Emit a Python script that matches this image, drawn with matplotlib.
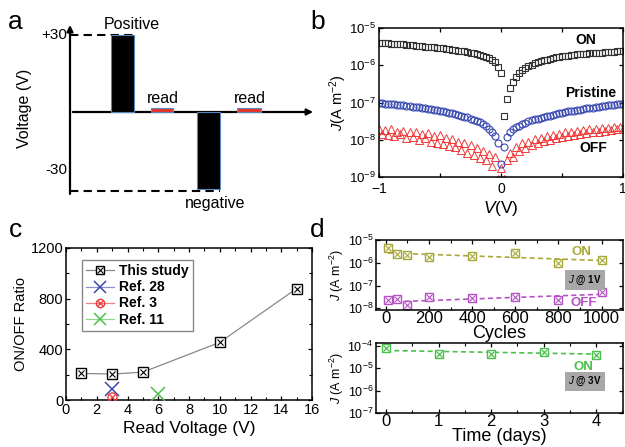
import numpy as np
import matplotlib
matplotlib.use('Agg')
import matplotlib.pyplot as plt
from matplotlib.lines import Line2D
from matplotlib.legend_handler import HandlerTuple
from matplotlib.ticker import NullLocator, MultipleLocator, LogLocator

plt.rcParams['font.family'] = ['Liberation Sans', 'DejaVu Sans']
plt.rcParams['mathtext.fontset'] = 'custom'
plt.rcParams['mathtext.rm'] = 'Liberation Sans'
plt.rcParams['mathtext.it'] = 'Liberation Sans:italic'
plt.rcParams['mathtext.bf'] = 'Liberation Sans:bold'
plt.rcParams['xtick.direction'] = 'in'
plt.rcParams['ytick.direction'] = 'in'
plt.rcParams['xtick.top'] = True
plt.rcParams['ytick.right'] = True
plt.rcParams['axes.linewidth'] = 1.1

# ---- (a) pulse scheme ----
pulse_start = [1.65, 3.3, 5.15, 6.8]
pulse_width = [0.95, 0.9, 0.95, 0.95]
pulse_level = [30, 1.5, -30, 1.5]
pulse_name = ['Positive', 'read', 'negative', 'read']

# ---- (b) J-V sweeps, log10(J) ----
sweep_v = np.linspace(-1, 1, 81)
on_logj = [-5.40, -5.40, -5.41, -5.41, -5.42, -5.42, -5.43, -5.43, -5.44, -5.45,
           -5.46, -5.46, -5.47, -5.48, -5.49, -5.50, -5.50, -5.51, -5.52, -5.53,
           -5.54, -5.55, -5.56, -5.57, -5.58, -5.59, -5.61, -5.62, -5.63, -5.65,
           -5.66, -5.68, -5.70, -5.72, -5.74, -5.77, -5.80, -5.85, -5.92, -6.05,
           -6.20,
           -7.35, -6.90, -6.62, -6.45, -6.32, -6.22, -6.14, -6.07, -6.02, -5.98,
           -5.95, -5.92, -5.89, -5.87, -5.85, -5.83, -5.81, -5.79, -5.78, -5.76,
           -5.75, -5.74, -5.73, -5.72, -5.71, -5.70, -5.69, -5.69, -5.68, -5.67,
           -5.67, -5.66, -5.66, -5.65, -5.65, -5.64, -5.64, -5.63, -5.63, -5.62]
pristine_logj = [-7.02, -7.02, -7.03, -7.03, -7.04, -7.05, -7.06, -7.07, -7.08, -7.09,
                 -7.10, -7.11, -7.12, -7.13, -7.15, -7.16, -7.17, -7.18, -7.20, -7.21,
                 -7.23, -7.24, -7.26, -7.27, -7.29, -7.31, -7.33, -7.35, -7.38, -7.40,
                 -7.43, -7.46, -7.49, -7.53, -7.58, -7.63, -7.70, -7.78, -7.89, -8.10,
                 -8.65,
                 -8.20, -7.92, -7.80, -7.72, -7.67, -7.62, -7.58, -7.54, -7.51, -7.48,
                 -7.45, -7.43, -7.41, -7.39, -7.37, -7.35, -7.33, -7.31, -7.29, -7.27,
                 -7.26, -7.24, -7.23, -7.22, -7.20, -7.19, -7.18, -7.16, -7.15, -7.14,
                 -7.13, -7.11, -7.10, -7.09, -7.08, -7.07, -7.06, -7.05, -7.04, -7.03]
off_logj = [-7.70, -7.85, -7.74, -7.88, -7.72, -7.90, -7.78, -7.84, -7.76, -7.95,
            -7.80, -7.92, -7.78, -8.00, -7.84, -7.96, -7.82, -8.05, -7.90, -8.10,
            -7.88, -8.12, -7.95, -8.18, -7.98, -8.20, -8.05, -8.28, -8.08, -8.35,
            -8.15, -8.40, -8.22, -8.50, -8.30, -8.55, -8.38, -8.70, -8.45, -9.05,
            -8.75,
            -9.05, -8.55, -8.35, -8.45, -8.20, -8.30, -8.10, -8.22, -8.05, -8.15,
            -7.98, -8.08, -7.94, -8.04, -7.90, -8.00, -7.86, -7.96, -7.84, -7.93,
            -7.80, -7.90, -7.78, -7.87, -7.76, -7.85, -7.74, -7.83, -7.72, -7.80,
            -7.71, -7.78, -7.69, -7.76, -7.68, -7.74, -7.66, -7.72, -7.65, -7.70]

# ---- (c) ON/OFF ratio vs read voltage ----
read_v = [1, 3, 5, 10, 15]
ratio = [210, 205, 220, 455, 880]
ref28_v, ref28_ratio = [3], [90]
ref3_v, ref3_ratio = [3], [25]
ref11_v, ref11_ratio = [6], [45]

# ---- (d) endurance and retention ----
cycles = [10, 50, 100, 200, 400, 600, 800, 1000]
cyc_on_logj = [-5.36, -5.60, -5.64, -5.74, -5.69, -5.55, -6.03, -5.86]
cyc_off_logj = [-7.63, -7.60, -7.87, -7.50, -7.55, -7.50, -7.63, -7.30]
cyc_fit_x = [10, 1000]
cyc_on_fit = [-5.57, -5.90]
cyc_off_fit = [-7.72, -7.38]
days = [0, 1, 2, 3, 4]
day_on_logj = [-4.12, -4.38, -4.38, -4.30, -4.40]
day_fit_x = [0, 4]
day_on_fit = [-4.22, -4.38]

W, H = 625, 447
fig = plt.figure(figsize=(W / 100, H / 100), dpi=100)


def box(l, t, r, b):
    return [l / W, (H - b) / H, (r - l) / W, (b - t) / H]


# panel letters
for letter, px, py in [('a', 8, 29), ('b', 310, 29), ('c', 9, 237), ('d', 310, 237)]:
    fig.text(px / W, 1 - py / H, letter, fontsize=19, va='baseline')

# ================= (a) =================
ax = fig.add_axes(box(70, 19.6, 325, 204.4))
ax.set_xlim(0, 10.37)
ax.set_ylim(-36, 36)
ax.axis('off')
ax.annotate('', xy=(0, 35), xytext=(0, -33),
            arrowprops=dict(arrowstyle='-|>', lw=1.6, color='black', mutation_scale=9))
ax.annotate('', xy=(10.0, 0), xytext=(0, 0),
            arrowprops=dict(arrowstyle='-|>', lw=1.6, color='black', mutation_scale=9))
for s, w, lev in zip(pulse_start, pulse_width, pulse_level):
    big = abs(lev) > 5
    ax.bar(s, lev, width=w, align='edge', color='black' if big else '#e8332b',
           edgecolor='#5a86c0', linewidth=0.8, zorder=3)
ax.plot([0, pulse_start[0] + pulse_width[0]], [pulse_level[0]] * 2, '--', color='black',
        lw=1.5, dashes=(4, 2.5))
ax.plot([0, pulse_start[2] + pulse_width[2]], [pulse_level[2] - 0.8] * 2, '--', color='black',
        lw=1.5, dashes=(4, 2.5))
ax.text(-0.1, 30, '+30', ha='right', va='center', fontsize=11)
ax.text(-0.1, -22.6, '-30', ha='right', va='center', fontsize=11)
ax.text(2.52, 34, pulse_name[0], ha='center', va='center', fontsize=11.5)
ax.text(3.78, 5.2, pulse_name[1], ha='center', va='center', fontsize=11.5)
ax.text(5.9, -35.5, pulse_name[2], ha='center', va='center', fontsize=11.5)
ax.text(7.32, 5.2, pulse_name[3], ha='center', va='center', fontsize=11.5)
ax.text(-1.83, 1.5, 'Voltage (V)', rotation=90, ha='center', va='center', fontsize=11.5)

# ================= (b) =================
ax = fig.add_axes(box(379, 28, 623, 177))
ax.semilogy(sweep_v, 10 ** np.array(off_logj), '^', ms=5.2, mfc='none', mec='#f03a3a', mew=0.7)
ax.semilogy(sweep_v, 10 ** np.array(pristine_logj), 'o', ms=5, mfc='none', mec='#3848b0', mew=0.8)
ax.semilogy(sweep_v, 10 ** np.array(on_logj), 's', ms=4.3, mfc='none', mec='#333333', mew=0.8)
ax.set_xlim(-1, 1)
ax.set_ylim(1e-9, 1e-5)
ax.set_xticks([-1, 0, 1])
ax.xaxis.set_minor_locator(MultipleLocator(0.5))
ax.yaxis.set_major_locator(LogLocator(base=10, numticks=10))
ax.yaxis.set_minor_locator(NullLocator())
ax.tick_params(labelsize=10, length=3, width=0.9)
ax.tick_params(axis='y', labelsize=9.5, pad=2)
ax.tick_params(which='minor', length=3, width=0.9)
ax.set_xlabel('$\\it{V}$(V)', fontsize=12.5, labelpad=2)
ax.set_ylabel('$\\it{J}$(A m$^{-2}$)', fontsize=10.5, labelpad=0)
ax.text(0.848, 0.919, 'ON', transform=ax.transAxes, ha='center', va='center', fontsize=10, fontweight='bold')
ax.text(0.867, 0.567, 'Pristine', transform=ax.transAxes, ha='center', va='center', fontsize=10, fontweight='bold')
ax.text(0.877, 0.195, 'OFF', transform=ax.transAxes, ha='center', va='center', fontsize=10, fontweight='bold')

# ================= (c) =================
ax = fig.add_axes(box(66, 248, 312, 400))
ax.plot(read_v, ratio, '-', color='#888888', lw=0.9, marker='s', ms=6.5, mfc='white',
        mec='black', mew=1.0, zorder=3)
ax.plot(read_v, ratio, 'x', color='black', ms=4.5, mew=0.8, zorder=4)
ax.plot(ref28_v, ref28_ratio, 'x', color='#3848b0', ms=10, mew=1.1, zorder=3)
ax.plot(ref3_v, ref3_ratio, 'o', ms=6.5, mfc='none', mec='#f03a3a', mew=1.0, zorder=3)
ax.plot(ref3_v, ref3_ratio, 'x', color='#f03a3a', ms=4.5, mew=0.9, zorder=3)
ax.plot(ref11_v, ref11_ratio, 'x', color='#4cc04c', ms=10, mew=1.1, zorder=3)
ax.set_xlim(0, 16)
ax.set_ylim(0, 1200)
ax.xaxis.set_major_locator(MultipleLocator(2))
ax.xaxis.set_minor_locator(MultipleLocator(1))
ax.yaxis.set_major_locator(MultipleLocator(400))
ax.yaxis.set_minor_locator(MultipleLocator(200))
ax.tick_params(labelsize=10.5, length=3, width=0.9, pad=2)
ax.tick_params(which='minor', length=2, width=0.8)
ax.set_xlabel('Read Voltage (V)', fontsize=12.5, labelpad=3)
ax.set_ylabel('ON/OFF Ratio', fontsize=10.5, labelpad=2)
leg_this = (Line2D([], [], color='#888888', lw=0.9, marker='s', ms=6, mfc='white', mec='black'),
            Line2D([], [], ls='none', marker='x', color='black', ms=4, mew=0.8))
leg_28 = Line2D([], [], color='#8890d0', lw=0.9, marker='x', ms=9, mec='#3848b0', mew=1.1)
leg_3 = (Line2D([], [], color='#f08080', lw=0.9, marker='o', ms=6, mfc='none', mec='#f03a3a'),
         Line2D([], [], ls='none', marker='x', color='#f03a3a', ms=4, mew=0.9))
leg_11 = Line2D([], [], color='#90d890', lw=0.9, marker='x', ms=9, mec='#4cc04c', mew=1.1)
ax.legend([leg_this, leg_28, leg_3, leg_11], ['This study', 'Ref. 28', 'Ref. 3', 'Ref. 11'],
          handler_map={tuple: HandlerTuple(ndivide=1, pad=0)}, loc='upper left',
          bbox_to_anchor=(0.065, 0.92), prop={'weight': 'bold', 'size': 10},
          frameon=True, fancybox=False, edgecolor='#888888', framealpha=1,
          handlelength=2.0, handletextpad=0.4, labelspacing=0.15, borderpad=0.3,
          borderaxespad=0)

# ================= (d) top: endurance =================
on_col, off_col, ret_col = '#a8a838', '#b452c4', '#4cc04c'
ax = fig.add_axes(box(376, 240, 623, 310))
ax.semilogy(cyc_fit_x, 10 ** np.array(cyc_on_fit), '--', color=on_col, lw=1.2, dashes=(3, 2))
ax.semilogy(cyc_fit_x, 10 ** np.array(cyc_off_fit), '--', color=off_col, lw=1.2, dashes=(3, 2))
for vals, col in [(cyc_on_logj, on_col), (cyc_off_logj, off_col)]:
    ax.semilogy(cycles, 10 ** np.array(vals), 's', ms=6, mfc='white', mec=col, mew=1.0)
    ax.semilogy(cycles, 10 ** np.array(vals), 'x', ms=4, color=col, mew=0.8)
ax.set_xlim(-46, 1099)
ax.set_ylim(8.5e-9, 1e-5)
ax.xaxis.set_major_locator(MultipleLocator(200))
ax.xaxis.set_minor_locator(MultipleLocator(100))
ax.yaxis.set_major_locator(LogLocator(base=10, numticks=10))
ax.yaxis.set_minor_locator(NullLocator())
ax.tick_params(axis='x', labelsize=12, length=3, width=0.9, pad=1)
ax.tick_params(axis='y', labelsize=9, length=3, width=0.9, pad=2)
ax.tick_params(which='minor', length=2, width=0.8)
ax.set_xlabel('Cycles', fontsize=13, labelpad=-1)
ax.set_ylabel('$\\it{J}$ (A m$^{-2}$)', fontsize=9, labelpad=1)
ax.text(0.83, 0.83, 'ON', transform=ax.transAxes, ha='center', va='center', color=on_col,
        fontsize=9.5, fontweight='bold')
ax.text(0.84, 0.10, 'OFF', transform=ax.transAxes, ha='center', va='center', color=off_col,
        fontsize=9.5, fontweight='bold')
ax.text(0.846, 0.43, '$\\bf{\\it{J}}$ @ 1V', transform=ax.transAxes, ha='center', va='center',
        fontsize=7, fontweight='bold', bbox=dict(facecolor='#a8a8a8', edgecolor='none', pad=2.2))

# ================= (d) bottom: retention =================
ax = fig.add_axes(box(376, 343, 623, 413))
ax.semilogy(day_fit_x, 10 ** np.array(day_on_fit), '--', color=ret_col, lw=1.2, dashes=(3, 2))
ax.semilogy(days, 10 ** np.array(day_on_logj), 's', ms=6, mfc='white', mec=ret_col, mew=1.0)
ax.semilogy(days, 10 ** np.array(day_on_logj), 'x', ms=5, color=ret_col, mew=0.9)
ax.set_xlim(-0.19, 4.51)
ax.set_ylim(1e-7, 1.3e-4)
ax.xaxis.set_major_locator(MultipleLocator(1))
ax.xaxis.set_minor_locator(MultipleLocator(0.5))
ax.yaxis.set_major_locator(LogLocator(base=10, numticks=10))
ax.yaxis.set_minor_locator(NullLocator())
ax.tick_params(axis='x', labelsize=12, length=3, width=0.9, pad=1)
ax.tick_params(axis='y', labelsize=9, length=3, width=0.9, pad=2)
ax.tick_params(which='minor', length=2, width=0.8)
ax.set_xlabel('Time (days)', fontsize=13, labelpad=-1)
ax.set_ylabel('$\\it{J}$ (A m$^{-2}$)', fontsize=9, labelpad=1)
ax.text(0.838, 0.65, 'ON', transform=ax.transAxes, ha='center', va='center', color=ret_col,
        fontsize=9.5, fontweight='bold')
ax.text(0.846, 0.447, '$\\bf{\\it{J}}$ @ 3V', transform=ax.transAxes, ha='center', va='center',
        fontsize=7, fontweight='bold', bbox=dict(facecolor='#a8a8a8', edgecolor='none', pad=2.2))

fig.savefig('out.png', dpi=100)
